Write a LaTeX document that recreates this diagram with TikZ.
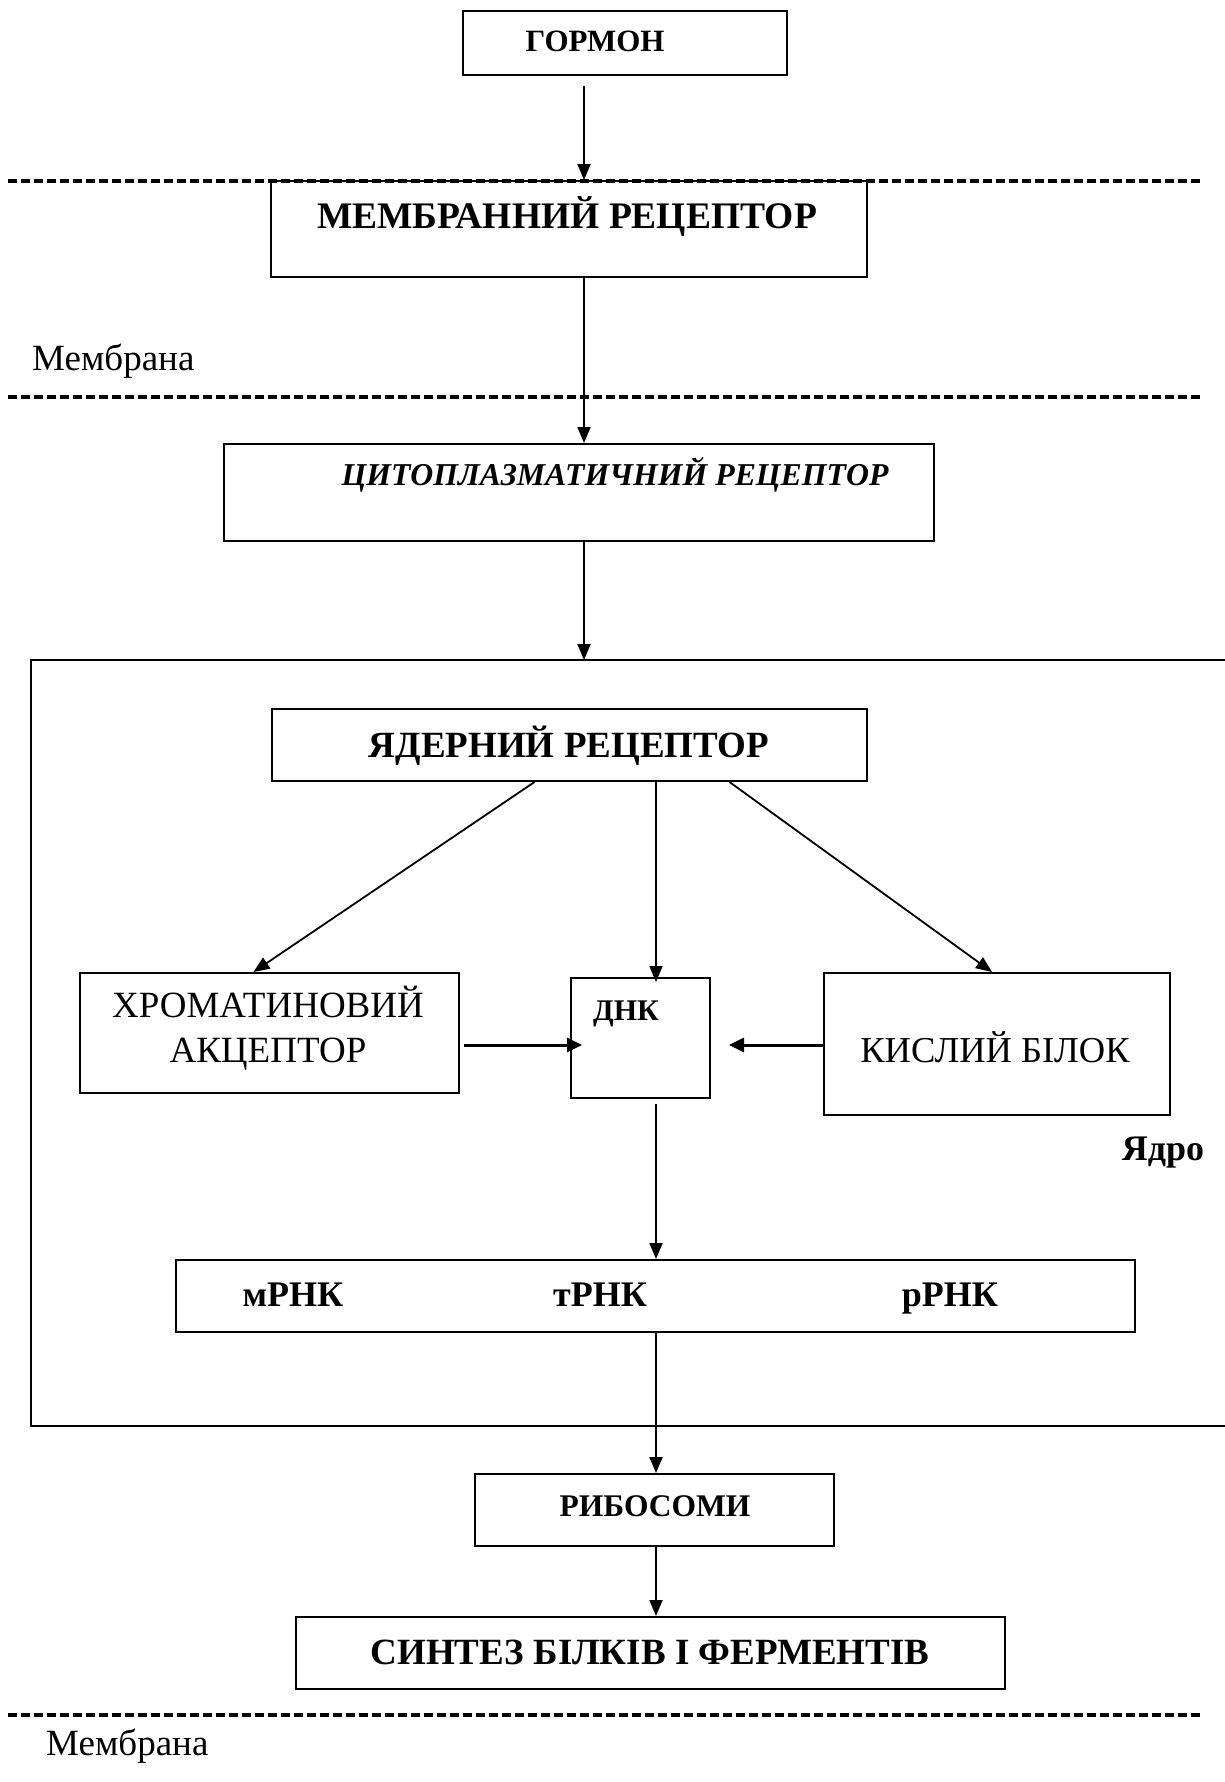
\documentclass[tikz,border=0pt]{standalone}
\usepackage{fontspec}
\setmainfont{Liberation Serif}
\usetikzlibrary{arrows.meta}
\begin{document}
\begin{tikzpicture}[x=1pt,y=-1pt,
  box/.style={draw,line width=2pt,inner sep=0pt},
  txt/.style={inner sep=0pt,anchor=base},
  arr/.style={line width=1.8pt,-{Triangle[length=16pt,width=13pt]}},
  tharr/.style={line width=3pt,-{Triangle[length=15pt,width=14pt]}},
  memline/.style={line width=3.5pt,dash pattern=on 9pt off 4pt},
  fB/.style={font=\fontsize{#1}{#1}\selectfont\bfseries},
  fR/.style={font=\fontsize{#1}{#1}\selectfont},
  fBI/.style={font=\fontsize{#1}{#1}\selectfont\bfseries\itshape}]
\useasboundingbox (0,0) rectangle (1225,1782);
% membranes
\draw[memline] (8,181) -- (1203,181);
\draw[memline] (8,397) -- (1203,397);
\draw[memline] (8,1715) -- (1203,1715);
\node[txt,anchor=base west,fR=37] (mem1) at (32,370) {Мембрана};
\node[txt,anchor=base west,fR=37] (mem2) at (46,1755) {Мембрана};
% boxes
\node[box,minimum width=324,minimum height=64] (gormon) at (625,43) {};
\node[box,minimum width=596,minimum height=96] (memb) at (569,229) {};
\node[box,minimum width=710,minimum height=97] (cyto) at (579,492.5) {};
\draw[line width=2pt] (1226,660) -- (31,660) -- (31,1426) -- (1226,1426);
\coordinate (nuctop) at (584,660);
\node[box,minimum width=595,minimum height=72] (yadr) at (569.5,745) {};
\node[box,minimum width=379,minimum height=120] (chrom) at (269.5,1033) {};
\node[box,minimum width=139,minimum height=120] (dnk) at (640.5,1038) {};
\node[box,minimum width=346,minimum height=142] (kysl) at (997,1044) {};
\node[box,minimum width=959,minimum height=72] (rnk) at (655.5,1296) {};
\node[box,minimum width=359,minimum height=72] (ribo) at (654.5,1510) {};
\node[box,minimum width=709,minimum height=72] (synt) at (650.5,1653) {};
% texts
\node[txt,fB=31] (tg) at (595,52) {ГОРМОН};
\node[txt,fB=37.5] (tm) at (567,228) {МЕМБРАННИЙ РЕЦЕПТОР};
\node[txt,fBI=31.8] (tc) at (615,485) {ЦИТОПЛАЗМАТИЧНИЙ РЕЦЕПТОР};
\node[txt,fB=37] (ty) at (569,757) {ЯДЕРНИЙ РЕЦЕПТОР};
\node[txt,fR=37] (th1) at (268,1017) {ХРОМАТИНОВИЙ};
\node[txt,fR=37] (th2) at (268,1062) {АКЦЕПТОР};
\node[txt,fB=30] (td) at (626,1020) {ДНК};
\node[txt,fR=36.5] (tk) at (995,1062) {КИСЛИЙ БІЛОК};
\node[txt,fB=36] (tya) at (1163,1160) {Ядро};
\node[txt,fB=36] (tr1) at (293,1306) {мРНК};
\node[txt,fB=36] (tr2) at (600,1306) {тРНК};
\node[txt,fB=36] (tr3) at (950,1306) {рРНК};
\node[txt,fB=31.5] (tri) at (655,1516) {РИБОСОМИ};
\node[txt,fB=37] (ts) at (650,1664) {СИНТЕЗ БІЛКІВ І ФЕРМЕНТІВ};
% x guides
\coordinate (xa) at (584,0);
\coordinate (xb) at (656,0);
% connectors
\draw[arr,shorten <=10pt] (gormon.south -| xa) -- (memb.north -| xa);
\draw[arr] (memb.south -| xa) -- (cyto.north -| xa);
\draw[arr] (cyto.south -| xa) -- (nuctop);
\draw[arr] ([xshift=-35pt]yadr.south) -- ([xshift=-16pt]chrom.north);
\draw[arr] (yadr.south -| xb) -- ([yshift=-5pt]dnk.north -| xb);
\draw[arr] ([xshift=160pt]yadr.south) -- ([xshift=-5pt]kysl.north);
\draw[tharr,shorten <=4pt] (chrom.east |- 0,1045) -- ([xshift=12pt]dnk.west |- 0,1045);
\draw[tharr,shorten >=18pt] (kysl.west |- 0,1045) -- (dnk.east |- 0,1045);
\draw[arr,shorten <=5pt] (dnk.south -| xb) -- (rnk.north -| xb);
\draw[arr] (rnk.south -| xb) -- (ribo.north -| xb);
\draw[arr] (ribo.south -| xb) -- (synt.north -| xb);
\end{tikzpicture}
\end{document}
